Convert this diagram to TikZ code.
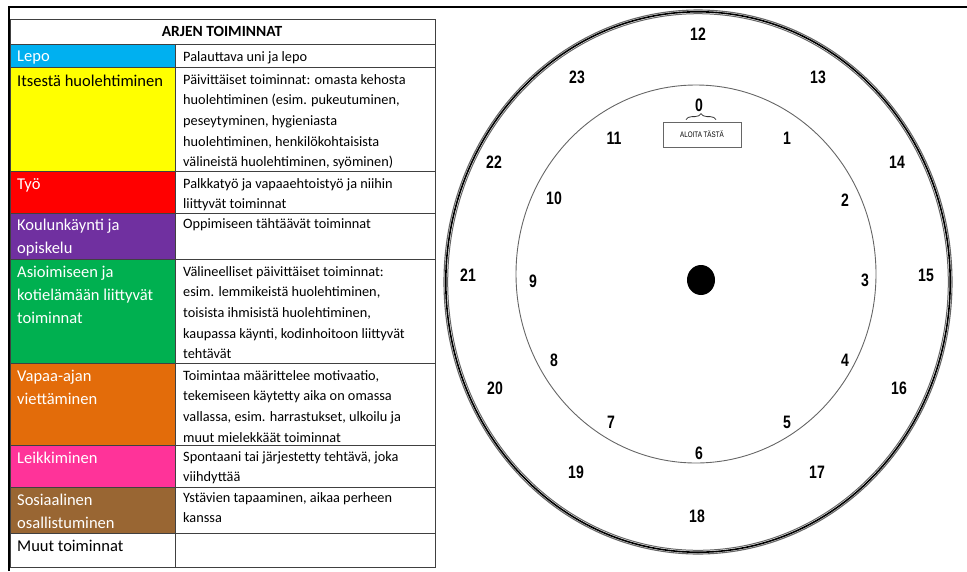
\documentclass[tikz,border=0pt]{standalone}
\usepackage{fontspec}
\setmainfont{Carlito}
\newfontfamily\clockfont[FakeStretch=0.78]{Liberation Sans}
\usetikzlibrary{decorations.pathreplacing}

\definecolor{lepo}{HTML}{00B0F0}
\definecolor{itse}{HTML}{FFFF00}
\definecolor{tyo}{HTML}{FF0000}
\definecolor{koulu}{HTML}{7030A0}
\definecolor{asiointi}{HTML}{00B050}
\definecolor{vapaa}{HTML}{E36C0A}
\definecolor{leikki}{HTML}{FF3399}
\definecolor{sosiaali}{HTML}{996633}

\begin{document}
\begin{tikzpicture}[x=1pt,y=-1pt,
  lab/.style={anchor=north west,inner sep=0pt,align=left,text=white,font=\fontsize{16.5}{23}\selectfont},
  desc/.style={anchor=north west,inner sep=0pt,align=left,font=\fontsize{14.3}{20.7}\selectfont},
  head/.style={inner sep=0pt,font=\bfseries\fontsize{15.5}{18}\selectfont},
  grid/.style={draw=black!75,line width=0.9pt},
  hour/.style={inner sep=0pt,font=\clockfont\bfseries\fontsize{18}{18}\selectfont},
  startbox/.style={draw=black!60,line width=0.8pt,minimum width=78pt,minimum height=25pt,inner sep=0pt,font=\clockfont\fontsize{8}{8}\selectfont}
]
\useasboundingbox (0,0) rectangle (967,571);

% frame
\draw[line width=2.4pt] (9,571) -- (9,7) -- (967,7);

% table cells
\fill[lepo] (10,44) rectangle (175,67);
\fill[itse] (10,67) rectangle (175,171);
\fill[tyo] (10,171) rectangle (175,213);
\fill[koulu] (10,213) rectangle (175,259);
\fill[asiointi] (10,259) rectangle (175,363);
\fill[vapaa] (10,363) rectangle (175,445);
\fill[leikki] (10,445) rectangle (175,487);
\fill[sosiaali] (10,487) rectangle (175,533);

\node[head] (title) at (222,31) {ARJEN TOIMINNAT};

\node[lab] (lepoL) at (17,51) {Lepo};
\node[desc] (lepoD) at (183,51) {Palauttava uni ja lepo};
\node[lab,text=black] (itseL) at (17,75) {Itsestä huolehtiminen};
\node[desc] (itseD) at (183,74) {Päivittäiset toiminnat: omasta kehosta\\huolehtiminen (esim. pukeutuminen,\\peseytyminen, hygieniasta\\huolehtiminen, henkilökohtaisista\\välineistä huolehtiminen, syöminen)};
\node[lab] (tyoL) at (17,178) {Työ};
\node[desc] (tyoD) at (183,178) {Palkkatyö ja vapaaehtoistyö ja niihin\\liittyvät toiminnat};
\node[lab] (kouluL) at (17,219) {Koulunkäynti ja\\opiskelu};
\node[desc] (kouluD) at (183,218) {Oppimiseen tähtäävät toiminnat};
\node[lab] (asiointiL) at (17,266) {Asioimiseen ja\\kotielämään liittyvät\\toiminnat};
\node[desc] (asiointiD) at (183,266) {Välineelliset päivittäiset toiminnat:\\esim. lemmikeistä huolehtiminen,\\toisista ihmisistä huolehtiminen,\\kaupassa käynti, kodinhoitoon liittyvät\\tehtävät};
\node[lab] (vapaaL) at (17,370) {Vapaa-ajan\\viettäminen};
\node[desc] (vapaaD) at (183,370) {Toimintaa määrittelee motivaatio,\\tekemiseen käytetty aika on omassa\\vallassa, esim. harrastukset, ulkoilu ja\\muut mielekkäät toiminnat};
\node[lab] (leikkiL) at (17,452) {Leikkiminen};
\node[desc] (leikkiD) at (183,451) {Spontaani tai järjestetty tehtävä, joka\\viihdyttää};
\node[lab] (sosiaaliL) at (17,494) {Sosiaalinen\\osallistuminen};
\node[desc] (sosiaaliD) at (183,492) {Ystävien tapaaminen, aikaa perheen\\kanssa};
\node[lab,text=black] (muutL) at (17,540) {Muut toiminnat};

% table grid
\draw[grid] (10,19) rectangle (435,567);
\foreach \y in {44,67,171,213,259,363,445,487,533}
  \draw[grid] (10,\y) -- (435,\y);
\draw[grid] (175,44) -- (175,567);

% clock face
\coordinate (c) at (698,282);
\draw[black!60,line width=1.1pt] (c) ellipse [x radius=254,y radius=272];
\draw[black,line width=1.6pt] (c) ellipse [x radius=252.2,y radius=270.2];
\draw[black!60,line width=1pt] (c) ellipse [x radius=250.3,y radius=268.3];
\draw[black!60,line width=0.9pt] (696,274) ellipse [x radius=180,y radius=189];
\fill (701,280) ellipse [x radius=14,y radius=15];

\foreach \h/\px/\py in {0/699/105,1/787/138,2/845/200,3/865/280,4/845/360,5/787/422,
  6/699/453,7/611/422,8/554/360,9/533/281,10/554/198,11/614/138,
  12/698/34,13/818/77,14/897/162,15/926/275,16/899/388,17/817/472,
  18/697/516,19/576/472,20/495/388,21/468/275,22/494/162,23/577/77}
  \node[hour] (h\h) at (\px,\py) {\h};

\node[startbox] (start) at (702,134.5) {ALOITA TÄSTÄ};
\draw[black!80,line width=0.8pt,decorate,decoration={brace,amplitude=6pt}]
  ([xshift=-16pt,yshift=2pt]start.north) -- ([xshift=14pt,yshift=2pt]start.north);
\end{tikzpicture}
\end{document}
